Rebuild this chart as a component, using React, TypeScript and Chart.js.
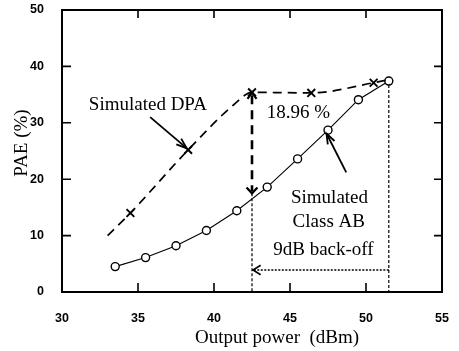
import React, { useEffect, useRef } from "react";
import { Chart, registerables } from "chart.js";

Chart.register(...registerables);

// ---- Data ----
const xTicks = [30, 35, 40, 45, 50, 55];
const yTicks = [0, 10, 20, 30, 40, 50];

// Simulated Class AB (circles, solid line)
const classAbX = [33.5, 35.5, 37.5, 39.5, 41.5, 43.5, 45.5, 47.5, 49.5, 51.5];
const classAbY = [4.5, 6.1, 8.2, 10.9, 14.4, 18.6, 23.6, 28.7, 34.1, 37.4];

// Simulated DPA dashed curve
const dpaCurveX = [33.0, 34.5, 38.3, 41.3, 42.5, 46.4, 50.5, 51.4];
const dpaCurveY = [10.0, 14.0, 25.2, 33.2, 35.4, 35.3, 37.1, 37.6];
// Simulated DPA cross markers
const dpaMarkX = [34.5, 38.3, 42.5, 46.4, 50.5];
const dpaMarkY = [14.0, 25.2, 35.4, 35.3, 37.1];

// Annotation values
const backoffFrom = 51.5; // dBm (peak)
const backoffTo = 42.5; // dBm (9 dB back-off)
const gapTop = 35.4; // DPA PAE at back-off
const gapBottom = 17.5; // Class AB PAE at back-off
const backoffArrowY = 3.9;
const gapLabel = "18.96 %";
const backoffLabel = "9dB back-off";

const SERIF = "'Liberation Serif', 'DejaVu Serif', serif";
const SANS = "'Liberation Sans', Arial, sans-serif";

function arrowHead(ctx: CanvasRenderingContext2D, x1: number, y1: number, x2: number, y2: number, len: number, spread: number) {
  const a = Math.atan2(y2 - y1, x2 - x1);
  ctx.beginPath();
  ctx.moveTo(x2 - len * Math.cos(a - spread), y2 - len * Math.sin(a - spread));
  ctx.lineTo(x2, y2);
  ctx.lineTo(x2 - len * Math.cos(a + spread), y2 - len * Math.sin(a + spread));
  ctx.stroke();
}

const annotPlugin = {
  id: "annot",
  afterDatasetsDraw(chart: any) {
    const { ctx, chartArea: ca, scales } = chart;
    const xs = scales.x;
    const ys = scales.y;
    const px = (v: number) => xs.getPixelForValue(v);
    const py = (v: number) => ys.getPixelForValue(v);
    ctx.save();
    ctx.strokeStyle = "#000";
    ctx.fillStyle = "#000";
    ctx.lineCap = "butt";

    // thin dashed verticals
    ctx.lineWidth = 1.2;
    ctx.setLineDash([3, 2]);
    ctx.beginPath();
    ctx.moveTo(px(backoffTo), py(gapBottom));
    ctx.lineTo(px(backoffTo), ca.bottom);
    ctx.moveTo(px(backoffFrom), py(classAbY[classAbY.length - 1]) + 4);
    ctx.lineTo(px(backoffFrom), ca.bottom);
    ctx.stroke();

    // dotted horizontal back-off arrow
    ctx.lineWidth = 1.4;
    ctx.setLineDash([2, 1.5]);
    ctx.beginPath();
    ctx.moveTo(px(backoffFrom), py(backoffArrowY));
    ctx.lineTo(px(backoffTo), py(backoffArrowY));
    ctx.stroke();
    ctx.setLineDash([]);
    ctx.lineWidth = 1.6;
    arrowHead(ctx, px(backoffFrom), py(backoffArrowY), px(backoffTo) + 1, py(backoffArrowY), 9, 0.55);

    // thick dashed vertical gap arrow
    ctx.lineWidth = 2.6;
    ctx.setLineDash([9, 6]);
    ctx.beginPath();
    ctx.moveTo(px(backoffTo), py(gapTop) + 3);
    ctx.lineTo(px(backoffTo), py(gapBottom) - 2);
    ctx.stroke();
    ctx.setLineDash([]);
    ctx.lineWidth = 2.2;
    arrowHead(ctx, px(backoffTo), py(gapTop) + 20, px(backoffTo), py(gapTop), 8, 0.6);
    arrowHead(ctx, px(backoffTo), py(gapBottom) - 20, px(backoffTo), py(gapBottom), 8, 0.75);

    // pointer arrows
    ctx.lineWidth = 1.8;
    const drawArrow = (x1: number, y1: number, x2: number, y2: number) => {
      ctx.beginPath();
      ctx.moveTo(px(x1), py(y1));
      ctx.lineTo(px(x2), py(y2));
      ctx.stroke();
      arrowHead(ctx, px(x1), py(y1), px(x2), py(y2), 11, 0.35);
    };
    drawArrow(35.8, 31.0, 38.2, 25.5);
    drawArrow(48.7, 21.2, 47.4, 28.1);

    // texts
    ctx.font = `19px ${SERIF}`;
    ctx.textAlign = "center";
    ctx.textBaseline = "middle";
    ctx.fillText("Simulated DPA", px(35.65), py(33.1));
    ctx.fillText(gapLabel, px(45.55), py(31.7));
    ctx.fillText("Simulated", px(47.6), py(16.7));
    ctx.fillText("Class AB", px(47.55), py(12.4));
    ctx.fillText(backoffLabel, px(47.2), py(7.5));

    // frame
    ctx.lineWidth = 2;
    ctx.strokeRect(ca.left, ca.top, ca.right - ca.left, ca.bottom - ca.top);

    // inward tick marks
    ctx.lineWidth = 1.6;
    ctx.beginPath();
    xTicks.forEach((t) => {
      const x = px(t);
      ctx.moveTo(x, ca.bottom);
      ctx.lineTo(x, ca.bottom - 9);
      ctx.moveTo(x, ca.top);
      ctx.lineTo(x, ca.top + 8);
    });
    yTicks.forEach((t) => {
      const y = py(t);
      ctx.moveTo(ca.left, y);
      ctx.lineTo(ca.left + 9, y);
      ctx.moveTo(ca.right, y);
      ctx.lineTo(ca.right - 8, y);
    });
    ctx.stroke();

    // axis titles
    ctx.font = `19px ${SERIF}`;
    ctx.textAlign = "center";
    ctx.textBaseline = "middle";
    ctx.fillText("Output power  (dBm)", 277, 338);
    ctx.save();
    ctx.translate(22, 143);
    ctx.rotate(-Math.PI / 2);
    ctx.fillText("PAE (%)", 0, 0);
    ctx.restore();

    ctx.restore();
  },
};

export default function App() {
  const ref = useRef<HTMLCanvasElement | null>(null);
  useEffect(() => {
    document.body.style.margin = "0";
    const canvas = ref.current!;
    const chart = new Chart(canvas, {
      type: "scatter",
      data: {
        datasets: [
          {
            label: "Simulated DPA curve",
            data: dpaCurveX.map((x, i) => ({ x, y: dpaCurveY[i] })),
            showLine: true,
            borderColor: "#000",
            borderWidth: 1.7,
            borderDash: [9, 6],
            pointRadius: 0,
            cubicInterpolationMode: "monotone",
          },
          {
            label: "Simulated DPA",
            data: dpaMarkX.map((x, i) => ({ x, y: dpaMarkY[i] })),
            showLine: false,
            pointStyle: "crossRot",
            pointRadius: 5.5,
            pointBorderWidth: 1.9,
            pointBorderColor: "#000",
            borderColor: "#000",
          },
          {
            label: "Simulated Class AB",
            data: classAbX.map((x, i) => ({ x, y: classAbY[i] })),
            showLine: true,
            borderColor: "#000",
            borderWidth: 1.1,
            pointStyle: "circle",
            pointRadius: 4,
            pointBorderWidth: 1.4,
            pointBorderColor: "#000",
            pointBackgroundColor: "#fff",
            tension: 0,
          },
        ],
      } as any,
      options: {
        animation: false,
        responsive: false,
        layout: { padding: { left: 0, top: 10, right: 17, bottom: 0 } },
        plugins: { legend: { display: false }, tooltip: { enabled: false } },
        scales: {
          x: {
            type: "linear",
            min: 30,
            max: 55,
            afterFit: (s: any) => {
              s.height = 59;
              s.paddingLeft = 0;
              s.paddingRight = 0;
            },
            afterBuildTicks: (s: any) => {
              s.ticks = xTicks.map((v) => ({ value: v }));
            },
            grid: { display: false },
            border: { display: false },
            ticks: {
              color: "#000",
              padding: 11,
              font: { family: SANS, size: 12.5, weight: "bold" },
              maxRotation: 0,
            },
          },
          y: {
            type: "linear",
            min: 0,
            max: 50,
            afterFit: (s: any) => {
              s.width = 62;
              s.paddingTop = 0;
              s.paddingBottom = 0;
            },
            afterBuildTicks: (s: any) => {
              s.ticks = yTicks.map((v) => ({ value: v }));
            },
            grid: { display: false },
            border: { display: false },
            ticks: {
              color: "#000",
              padding: 10,
              font: { family: SANS, size: 12.5, weight: "bold" },
            },
          },
        },
      } as any,
      plugins: [annotPlugin],
    });
    return () => chart.destroy();
  }, []);
  return (
    <div style={{ position: "fixed", left: 0, top: 0, width: 459, height: 351, background: "#fff" }}>
      <canvas ref={ref} width={459} height={351} />
    </div>
  );
}
